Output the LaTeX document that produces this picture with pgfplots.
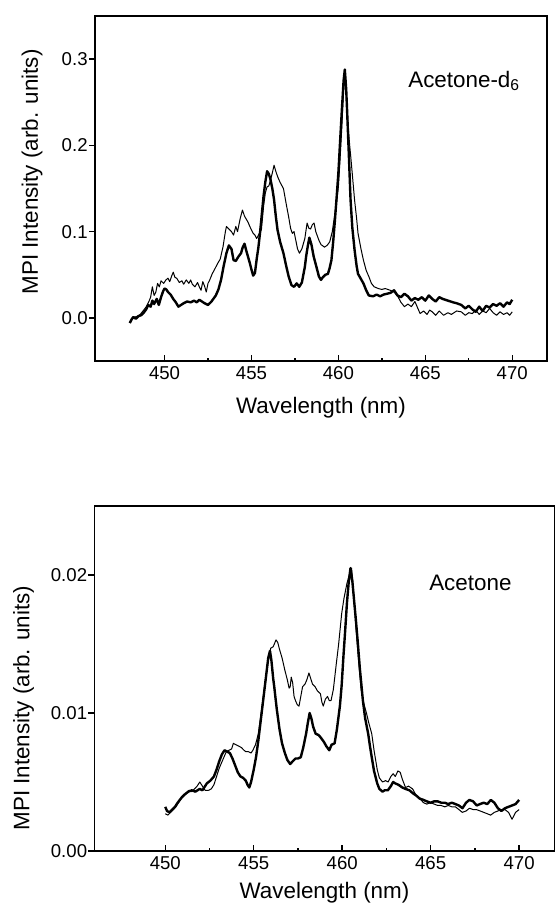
\documentclass[border=0pt]{standalone}
\usepackage{fontspec}
\setmainfont{Liberation Sans}
\usepackage{pgfplots}
\pgfplotsset{compat=1.18}

\newcommand{\labfont}{\fontsize{11.2}{13}\selectfont}

\pgfplotsset{
  spec/.style={
    scale only axis, anchor=south west,
    xmin=446, xmax=472,
    xtick={450,455,460,465,470}, minor x tick num=1,
    tick pos=left,
    xtick align=inside, ytick align=outside,
    major tick length=3pt, minor tick length=1.7pt,
    axis line style={line width=0.9pt},
    tick style={line width=0.7pt, black},
    /pgf/number format/assume math mode=true,
    ticklabel style={font=\fontsize{9.3}{10}\selectfont},
    xticklabel style={inner sep=0pt, yshift=-2.5pt},
    yticklabel style={inner sep=0pt, xshift=-0.5pt},
    scaled y ticks=false,
    xlabel={\labfont Wavelength (nm)},
    ylabel={\labfont MPI Intensity (arb. units)},
    every axis y label/.style={rotate=90, anchor=center, font=\labfont},
    every axis x label/.style={anchor=center, font=\labfont},
  },
  thick line/.style={black, line width=1.2pt, line join=round},
  thin line/.style={black, line width=0.5pt, line join=round},
}

\begin{document}
\begin{tikzpicture}
\useasboundingbox (0,0) rectangle (278.5pt,453.5pt);

% top panel: acetone-d6
\begin{axis}[spec, at={(47.5pt,273pt)}, width=226pt, height=172.5pt,
    ymin=-0.05, ymax=0.35, ytick={0,0.1,0.2,0.3},
    yticklabel style={/pgf/number format/.cd, fixed, fixed zerofill, precision=1},
    x label style={at={(axis description cs:0.5,-0.136)}},
    y label style={at={(axis description cs:-0.139,0.548)}},
]
\addplot[thick line] coordinates {
(448.0,-0.006) (448.1,-0.002) (448.2,0.001) (448.35,-0.001) (448.5,0.002) (448.65,0.003)
(448.8,0.006) (448.95,0.010) (449.06,0.015) (449.2,0.013) (449.3,0.020) (449.4,0.016)
(449.55,0.022) (449.67,0.015) (449.8,0.024) (449.92,0.031) (450.0,0.034) (450.1,0.033)
(450.2,0.030) (450.35,0.027) (450.5,0.022) (450.65,0.018) (450.8,0.013) (450.95,0.015)
(451.1,0.017) (451.3,0.019) (451.5,0.018) (451.7,0.020) (451.85,0.018) (452.0,0.021)
(452.15,0.019) (452.3,0.017) (452.5,0.015) (452.7,0.019) (452.95,0.026) (453.1,0.033)
(453.25,0.044) (453.4,0.060) (453.56,0.075) (453.7,0.084) (453.85,0.080) (453.97,0.067)
(454.1,0.066) (454.25,0.071) (454.4,0.075) (454.5,0.082) (454.6,0.086) (454.7,0.078)
(454.8,0.071) (454.9,0.064) (455.0,0.056) (455.1,0.049) (455.2,0.052) (455.3,0.068)
(455.4,0.082) (455.5,0.100) (455.6,0.121) (455.7,0.142) (455.8,0.158) (455.9,0.170)
(456.0,0.167) (456.1,0.160) (456.2,0.150) (456.3,0.137) (456.4,0.118) (456.5,0.102)
(456.65,0.088) (456.84,0.075) (457.0,0.060) (457.14,0.048) (457.3,0.038) (457.45,0.036)
(457.6,0.040) (457.75,0.036) (457.9,0.041) (458.07,0.059) (458.15,0.072) (458.23,0.082)
(458.33,0.093) (458.45,0.085) (458.58,0.071) (458.7,0.062) (458.88,0.048) (459.0,0.044)
(459.1,0.047) (459.25,0.050) (459.4,0.051) (459.5,0.058) (459.6,0.067) (459.7,0.088)
(459.8,0.113) (459.9,0.140) (460.0,0.168) (460.1,0.205) (460.2,0.241) (460.3,0.275)
(460.37,0.288) (460.45,0.265) (460.5,0.241) (460.6,0.190) (460.7,0.137) (460.8,0.105)
(460.93,0.079) (461.05,0.060) (461.13,0.051) (461.3,0.045) (461.44,0.040) (461.6,0.032)
(461.75,0.026) (462.0,0.025) (462.2,0.027) (462.4,0.025) (462.6,0.027) (462.8,0.028)
(463.0,0.029) (463.2,0.032) (463.4,0.026) (463.6,0.024) (463.8,0.028) (464.0,0.025)
(464.2,0.020) (464.4,0.023) (464.6,0.021) (464.8,0.024) (465.0,0.020) (465.2,0.026)
(465.4,0.022) (465.6,0.019) (465.8,0.024) (466.0,0.022) (466.3,0.020) (466.6,0.018)
(466.8,0.017) (467.07,0.015) (467.3,0.011) (467.5,0.014) (467.7,0.010) (467.9,0.007)
(468.1,0.013) (468.3,0.008) (468.5,0.014) (468.7,0.012) (468.9,0.016) (469.1,0.014)
(469.3,0.017) (469.5,0.013) (469.7,0.018) (469.85,0.016) (470.0,0.021)
};
\addplot[thin line] coordinates {
(448.0,-0.005) (448.15,-0.001) (448.3,0.001) (448.45,0.002) (448.6,0.004) (448.8,0.009)
(448.95,0.013) (449.1,0.019) (449.2,0.024) (449.3,0.036) (449.4,0.026) (449.5,0.030)
(449.6,0.040) (449.7,0.036) (449.8,0.043) (449.95,0.040) (450.08,0.044) (450.2,0.046)
(450.3,0.042) (450.4,0.048) (450.5,0.053) (450.6,0.047) (450.7,0.046) (450.85,0.041)
(451.0,0.043) (451.1,0.039) (451.25,0.044) (451.4,0.040) (451.5,0.044) (451.6,0.039)
(451.75,0.036) (451.9,0.041) (452.0,0.036) (452.1,0.032) (452.2,0.042) (452.3,0.037)
(452.4,0.030) (452.5,0.040) (452.6,0.044) (452.74,0.051) (452.9,0.057) (453.05,0.063)
(453.2,0.068) (453.36,0.082) (453.5,0.100) (453.56,0.106) (453.7,0.103) (453.85,0.100)
(453.97,0.096) (454.1,0.106) (454.2,0.100) (454.35,0.115) (454.48,0.125) (454.6,0.118)
(454.8,0.111) (454.95,0.104) (455.1,0.098) (455.2,0.096) (455.3,0.092) (455.45,0.098)
(455.57,0.102) (455.7,0.130) (455.8,0.145) (455.9,0.152) (456.0,0.153) (456.1,0.160)
(456.2,0.168) (456.3,0.177) (456.4,0.170) (456.5,0.164) (456.65,0.157) (456.84,0.150)
(457.0,0.132) (457.14,0.117) (457.25,0.104) (457.35,0.098) (457.45,0.100) (457.55,0.090)
(457.65,0.080) (457.76,0.075) (457.9,0.080) (458.07,0.092) (458.2,0.110) (458.3,0.104)
(458.4,0.103) (458.5,0.108) (458.6,0.110) (458.7,0.100) (458.88,0.090) (459.0,0.085)
(459.2,0.082) (459.35,0.084) (459.5,0.088) (459.65,0.100) (459.8,0.121) (459.9,0.135)
(460.0,0.152) (460.1,0.185) (460.2,0.222) (460.3,0.265) (460.37,0.288) (460.45,0.260)
(460.56,0.222) (460.65,0.200) (460.73,0.183) (460.83,0.160) (460.93,0.137) (461.05,0.115)
(461.13,0.098) (461.3,0.080) (461.44,0.067) (461.6,0.055) (461.75,0.048) (461.9,0.040)
(462.06,0.036) (462.3,0.034) (462.5,0.033) (462.7,0.034) (462.98,0.032) (463.2,0.030)
(463.39,0.026) (463.6,0.018) (463.8,0.013) (464.0,0.016) (464.2,0.013) (464.4,0.019)
(464.55,0.012) (464.7,0.005) (464.9,0.008) (465.1,0.004) (465.25,0.009) (465.4,0.007)
(465.6,0.003) (465.8,0.008) (466.05,0.003) (466.3,0.006) (466.5,0.004) (466.8,0.008)
(467.07,0.007) (467.3,0.003) (467.5,0.006) (467.7,0.005) (467.9,0.009) (468.1,0.004)
(468.3,0.008) (468.5,0.006) (468.7,0.011) (468.9,0.006) (469.1,0.003) (469.3,0.007)
(469.5,0.004) (469.7,0.006) (469.85,0.003) (470.0,0.007)
};
\node[anchor=west, font=\labfont, inner sep=0pt] at (axis cs:464.0,0.275) {Acetone-d\textsubscript{6}};
\end{axis}

% bottom panel: acetone
\begin{axis}[spec, at={(47.25pt,28pt)}, width=230pt, height=172.5pt,
    ymin=0, ymax=0.025, ytick={0,0.01,0.02},
    yticklabel style={/pgf/number format/.cd, fixed, fixed zerofill, precision=2},
    x label style={at={(axis description cs:0.5,-0.122)}},
    y label style={at={(axis description cs:-0.154,0.414)}},
]
\addplot[thick line] coordinates {
(450.0,0.0032) (450.1,0.0029) (450.24,0.0028) (450.4,0.0030) (450.55,0.0032) (450.7,0.0035)
(450.94,0.0039) (451.1,0.0041) (451.3,0.0043) (451.5,0.0044) (451.7,0.0043) (451.95,0.0045)
(452.1,0.0044) (452.35,0.0049) (452.55,0.0051) (452.75,0.0054) (452.9,0.0059) (453.05,0.0065)
(453.2,0.0070) (453.35,0.0073) (453.5,0.0072) (453.65,0.0071) (453.8,0.0067) (453.95,0.0062)
(454.1,0.0057) (454.25,0.0054) (454.4,0.0053) (454.55,0.0051) (454.65,0.0048) (454.75,0.0046)
(454.85,0.0050) (455.0,0.0059) (455.13,0.0068) (455.26,0.0080) (455.4,0.0095) (455.56,0.0112)
(455.7,0.0127) (455.82,0.0140) (455.92,0.0145) (456.0,0.0138) (456.1,0.0125) (456.16,0.0119)
(456.3,0.0103) (456.46,0.0088) (456.6,0.0078) (456.76,0.0071) (456.9,0.0066) (457.06,0.0063)
(457.2,0.0065) (457.36,0.0067) (457.5,0.0067) (457.66,0.0068) (457.8,0.0075) (457.96,0.0085)
(458.06,0.0093) (458.16,0.0100) (458.26,0.0096) (458.36,0.0090) (458.5,0.0085) (458.67,0.0084)
(458.8,0.0082) (458.97,0.0079) (459.1,0.0076) (459.27,0.0073) (459.4,0.0077) (459.57,0.0078)
(459.7,0.0088) (459.87,0.0105) (459.97,0.0120) (460.07,0.0141) (460.17,0.0160) (460.27,0.0180)
(460.37,0.0195) (460.47,0.0205) (460.57,0.0196) (460.67,0.0182) (460.77,0.0168) (460.87,0.0153)
(461.0,0.0132) (461.17,0.0109) (461.3,0.0096) (461.47,0.0085) (461.57,0.0076) (461.67,0.0068)
(461.8,0.0058) (461.98,0.0049) (462.1,0.0045) (462.28,0.0043) (462.4,0.0044) (462.58,0.0044)
(462.75,0.0047) (462.88,0.0050) (463.0,0.0049) (463.18,0.0048) (463.4,0.0046) (463.58,0.0045)
(463.8,0.0044) (463.98,0.0042) (464.2,0.0040) (464.38,0.0038) (464.6,0.0037) (464.78,0.0036)
(465.0,0.0035) (465.2,0.0036) (465.39,0.0036) (465.6,0.0035) (465.8,0.0035) (465.99,0.0034)
(466.2,0.0035) (466.4,0.0034) (466.59,0.0033) (466.8,0.0031) (467.0,0.0035) (467.19,0.0037)
(467.4,0.0036) (467.6,0.0033) (467.79,0.0034) (468.0,0.0035) (468.2,0.0034) (468.4,0.0037)
(468.6,0.0035) (468.8,0.0031) (469.0,0.0029) (469.2,0.0031) (469.4,0.0032) (469.6,0.0033)
(469.8,0.0034) (470.0,0.0037)
};
\addplot[thin line] coordinates {
(450.0,0.0027) (450.15,0.0026) (450.3,0.0028) (450.45,0.0030) (450.6,0.0032) (450.75,0.0035)
(450.9,0.0038) (451.05,0.0040) (451.2,0.0042) (451.35,0.0044) (451.5,0.0043) (451.65,0.0045)
(451.8,0.0047) (451.95,0.0050) (452.1,0.0047) (452.25,0.0044) (452.45,0.0044) (452.6,0.0045)
(452.75,0.0048) (452.9,0.0054) (453.05,0.0060) (453.25,0.0066) (453.45,0.0072) (453.6,0.0073)
(453.75,0.0074) (453.85,0.0078) (454.0,0.0077) (454.15,0.0076) (454.3,0.0075) (454.45,0.0073)
(454.55,0.0072) (454.7,0.0072) (454.85,0.0071) (454.95,0.0073) (455.1,0.0077) (455.26,0.0085)
(455.4,0.0098) (455.55,0.0113) (455.66,0.0124) (455.8,0.0136) (455.96,0.0147) (456.1,0.0148)
(456.26,0.0153) (456.36,0.0151) (456.46,0.0146) (456.6,0.0140) (456.76,0.0131) (456.9,0.0124)
(457.0,0.0118) (457.06,0.0119) (457.12,0.0126) (457.2,0.0122) (457.28,0.0112) (457.36,0.0109)
(457.46,0.0106) (457.56,0.0105) (457.66,0.0112) (457.76,0.0119) (457.9,0.0121) (458.0,0.0124)
(458.12,0.0129) (458.22,0.0125) (458.32,0.0121) (458.47,0.0119) (458.6,0.0116) (458.77,0.0114)
(458.85,0.0108) (458.93,0.0105) (459.05,0.0110) (459.17,0.0112) (459.27,0.0109) (459.37,0.0109)
(459.5,0.0117) (459.67,0.0136) (459.8,0.0150) (459.97,0.0172) (460.1,0.0183) (460.27,0.0194)
(460.4,0.0200) (460.53,0.0205) (460.65,0.0185) (460.77,0.0163) (460.9,0.0142) (461.07,0.0117)
(461.2,0.0108) (461.37,0.0100) (461.5,0.0093) (461.67,0.0085) (461.8,0.0073) (461.98,0.0059)
(462.1,0.0053) (462.28,0.0050) (462.45,0.0051) (462.6,0.0050) (462.75,0.0054) (462.88,0.0056)
(463.0,0.0054) (463.15,0.0058) (463.28,0.0057) (463.4,0.0052) (463.58,0.0046) (463.75,0.0047)
(463.98,0.0045) (464.15,0.0041) (464.38,0.0038) (464.6,0.0035) (464.78,0.0034) (465.0,0.0035)
(465.2,0.0034) (465.4,0.0033) (465.59,0.0033) (465.8,0.0032) (466.0,0.0033) (466.2,0.0032)
(466.4,0.0032) (466.6,0.0030) (466.79,0.0028) (467.0,0.0029) (467.2,0.0031) (467.4,0.0030)
(467.59,0.0030) (467.8,0.0029) (468.0,0.0028) (468.2,0.0027) (468.39,0.0026) (468.6,0.0028)
(468.8,0.0029) (469.0,0.0030) (469.2,0.0030) (469.4,0.0028) (469.6,0.0023) (469.8,0.0028)
(470.0,0.0030)
};
\node[anchor=west, font=\labfont, inner sep=0pt] at (axis cs:464.9,0.01946) {Acetone};
\end{axis}
\end{tikzpicture}
\end{document}
